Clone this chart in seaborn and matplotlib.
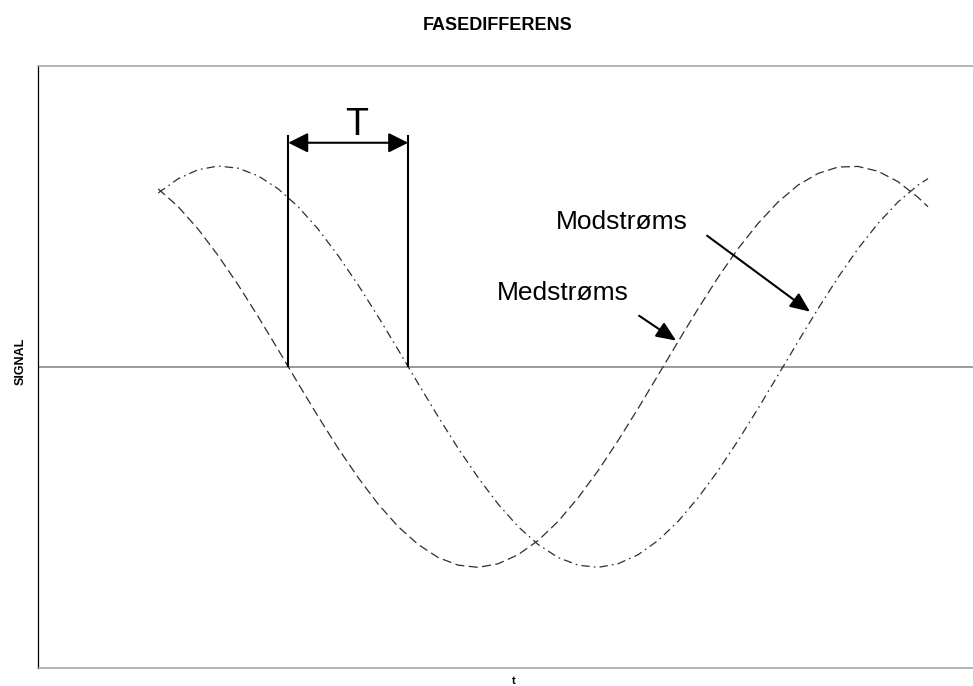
import matplotlib
matplotlib.use("Agg")
import matplotlib.pyplot as plt
import pandas as pd
import seaborn as sns

# Sampled signals (time in arbitrary units, amplitude normalised to 1)
t = [120, 140, 160, 180, 200, 220, 240, 260, 280, 300,
     320, 340, 360, 380, 400, 420, 440, 460, 480, 500,
     520, 540, 560, 580, 600, 620, 640, 660, 680, 700,
     720, 740, 760, 780, 800, 820, 840, 860, 880, 890]

medstroms = [0.886, 0.797, 0.685, 0.553, 0.407, 0.249, 0.084, -0.084, -0.249, -0.407,
             -0.553, -0.685, -0.797, -0.886, -0.951, -0.989, -1.000, -0.982, -0.937, -0.866,
             -0.771, -0.653, -0.518, -0.368, -0.208, -0.042, 0.125, 0.289, 0.445, 0.588,
             0.714, 0.821, 0.905, 0.963, 0.995, 0.998, 0.974, 0.922, 0.844, 0.797]

modstroms = [0.866, 0.937, 0.982, 1.000, 0.989, 0.951, 0.886, 0.797, 0.685, 0.553,
             0.407, 0.249, 0.084, -0.084, -0.249, -0.407, -0.553, -0.685, -0.797, -0.886,
             -0.951, -0.989, -1.000, -0.982, -0.937, -0.866, -0.771, -0.653, -0.518, -0.368,
             -0.208, -0.042, 0.125, 0.289, 0.445, 0.588, 0.714, 0.821, 0.905, 0.937]

series_names = ["Medstrøms", "Modstrøms"]

# Zero crossings marking the phase difference T
t_cross_med = 250
t_cross_mod = 370

sns.set_style("white")
plt.rcParams["font.family"] = ["Liberation Sans", "DejaVu Sans"]
plt.rcParams["lines.scale_dashes"] = False
plt.rcParams["text.color"] = "black"
plt.rcParams["axes.labelcolor"] = "black"

df = pd.DataFrame({
    "t": t + t,
    "signal": medstroms + modstroms,
    "retning": [series_names[0]] * len(t) + [series_names[1]] * len(t),
})

fig = plt.figure(figsize=(9.73, 6.86), dpi=100)
ax = fig.add_axes([0.03936, 0.02668, 0.96064, 0.87755])

ax.axhline(0, color="#7f7f7f", lw=1.1, zorder=1)

sns.lineplot(
    data=df, x="t", y="signal", style="retning",
    dashes={series_names[0]: (6.5, 3.2), series_names[1]: (6.0, 3.0, 1.2, 3.0)},
    color="#2e2e2e", lw=0.9, legend=False, errorbar=None, ax=ax, zorder=2,
)

ax.set_xlim(0, 935)
ax.set_ylim(-1.5, 1.5)
ax.set_xticks([])
ax.set_yticks([])

for side in ["top", "bottom"]:
    ax.spines[side].set_color("#a0a0a0")
    ax.spines[side].set_linewidth(1.1)
ax.spines["left"].set_color("black")
ax.spines["left"].set_linewidth(0.9)
ax.spines["right"].set_visible(False)

# Phase difference marker
t_top = 1.156
arrow_y = 1.116
for tc in (t_cross_med, t_cross_mod):
    ax.plot([tc, tc], [0, t_top], color="black", lw=1.5, solid_capstyle="butt", zorder=3)
ax.annotate("", xy=(t_cross_mod, arrow_y), xytext=(t_cross_med, arrow_y),
            arrowprops=dict(arrowstyle="<|-|>,head_length=0.4,head_width=0.2",
                            mutation_scale=30, lw=1.5, color="black",
                            shrinkA=0, shrinkB=0))
ax.text(318, t_top, "T", fontsize=27, ha="center", va="baseline", color="black")

# Curve labels
ax.text(518, 0.723, "Modstrøms", fontsize=19, ha="left", va="center", color="black")
ax.annotate("", xy=(772, 0.274), xytext=(669, 0.653),
            arrowprops=dict(arrowstyle="-|>,head_length=0.4,head_width=0.17",
                            mutation_scale=30, lw=1.5, color="black",
                            shrinkA=0, shrinkB=0))
ax.text(459, 0.369, "Medstrøms", fontsize=19, ha="left", va="center", color="black")
ax.annotate("", xy=(638, 0.130), xytext=(601, 0.254),
            arrowprops=dict(arrowstyle="-|>,head_length=0.4,head_width=0.17",
                            mutation_scale=30, lw=1.5, color="black",
                            shrinkA=0, shrinkB=0))

ax.set_xlabel("t", fontsize=8, fontweight="bold", color="black")
ax.xaxis.set_label_coords(0.5083, -0.0146)
ax.set_ylabel("SIGNAL", fontsize=9, fontweight="bold", color="black")
ax.yaxis.set_label_coords(-0.0122, 0.509)

fig.text(498 / 973, 1 - 30 / 686, "FASEDIFFERENS", fontsize=13, fontweight="bold",
         ha="center", va="baseline", color="black")

fig.savefig("out.png", dpi=100)
